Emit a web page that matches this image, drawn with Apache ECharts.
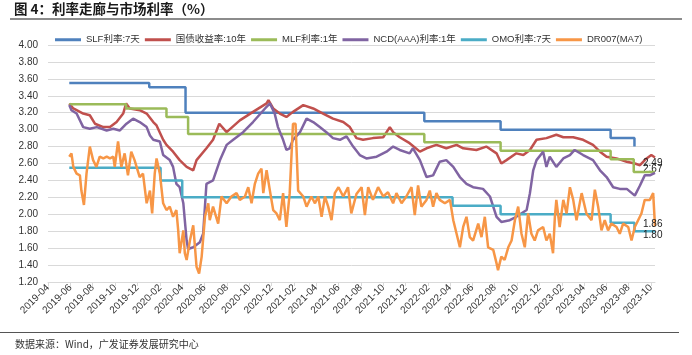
<!DOCTYPE html>
<html><head><meta charset="utf-8">
<script src="https://cdn.jsdelivr.net/npm/echarts@6/dist/echarts.min.js"></script>
<style>html,body{margin:0;padding:0;background:#fff}#c{width:692px;height:355px}</style>
</head><body><div id="c"></div>
<script>
const tickLabels = ['2019-04','2019-06','2019-08','2019-10','2019-12','2020-02','2020-04','2020-06','2020-08','2020-10','2020-12','2021-02','2021-04','2021-06','2021-08','2021-10','2021-12','2022-02','2022-04','2022-06','2022-08','2022-10','2022-12','2023-02','2023-04','2023-06','2023-08','2023-10'];
const seriesNames = ['SLF利率:7天','国债收益率:10年','MLF利率:1年','NCD(AAA)利率:1年','OMO利率:7天','DR007(MA7)'];

const slf = [['2019-05-29',3.55],['2020-01-02',3.50],['2020-04-10',3.20],['2022-01-21',3.10],['2022-08-17',3.00],['2023-06-13',2.90],['2023-08-17',2.80]];
const mlf = [['2019-05-29',3.30],['2019-10-31',3.25],['2020-02-18',3.15],['2020-04-17',2.95],['2022-01-21',2.85],['2022-08-17',2.75],['2023-06-13',2.65],['2023-08-15',2.50],['2023-10-12',2.50]];
const omo = [['2019-05-29',2.55],['2020-02-02',2.40],['2020-04-01',2.20],['2022-04-08',2.10],['2022-08-17',2.00],['2023-06-13',1.90],['2023-08-17',1.80],['2023-10-12',1.80]];

const bond10y = [['2019-05-29',3.31],['2019-06-09',3.25],['2019-07-06',3.19],['2019-07-24',3.17],['2019-08-07',3.07],['2019-08-30',3.03],['2019-09-17',3.03],['2019-10-05',3.09],['2019-10-23',3.19],['2019-10-31',3.31],['2019-11-10',3.25],['2019-12-07',3.23],['2019-12-26',3.19],['2020-01-13',3.09],['2020-01-22',3.05],['2020-02-09',2.88],['2020-02-18',2.82],['2020-03-07',2.74],['2020-03-25',2.64],['2020-04-13',2.56],['2020-04-22',2.54],['2020-05-01',2.52],['2020-05-10',2.64],['2020-06-06',2.78],['2020-06-24',2.88],['2020-07-11',3.07],['2020-07-31',2.97],['2020-09-05',3.11],['2020-10-11',3.21],['2020-11-17',3.31],['2020-11-22',3.35],['2020-12-05',3.25],['2020-12-23',3.19],['2021-01-10',3.15],['2021-01-28',3.21],['2021-02-25',3.29],['2021-03-24',3.25],['2021-04-20',3.19],['2021-05-17',3.13],['2021-06-14',3.09],['2021-07-02',3.03],['2021-07-20',2.90],['2021-08-07',2.88],['2021-09-03',2.90],['2021-10-01',2.91],['2021-10-19',3.03],['2021-10-28',2.97],['2021-11-15',2.91],['2021-12-12',2.84],['2022-01-09',2.74],['2022-01-27',2.78],['2022-02-23',2.82],['2022-03-22',2.78],['2022-04-19',2.82],['2022-05-07',2.78],['2022-06-12',2.76],['2022-07-09',2.80],['2022-08-06',2.72],['2022-08-19',2.60],['2022-09-02',2.64],['2022-09-29',2.72],['2022-10-18',2.70],['2022-11-05',2.76],['2022-11-23',2.88],['2022-12-20',2.90],['2023-01-16',2.94],['2023-02-04',2.91],['2023-03-03',2.91],['2023-03-30',2.88],['2023-04-26',2.82],['2023-05-15',2.74],['2023-06-02',2.68],['2023-06-29',2.66],['2023-07-27',2.62],['2023-08-18',2.60],['2023-09-01',2.58],['2023-09-19',2.66],['2023-10-02',2.70],['2023-10-12',2.67]];

const ncd1y = [['2019-05-29',3.29],['2019-06-04',3.23],['2019-06-18',3.19],['2019-07-06',3.03],['2019-07-24',3.01],['2019-08-12',3.03],['2019-09-08',2.99],['2019-09-26',3.01],['2019-10-14',2.99],['2019-11-01',3.07],['2019-11-19',3.13],['2019-12-07',3.09],['2019-12-26',3.03],['2020-01-04',2.93],['2020-01-13',2.88],['2020-01-31',2.86],['2020-02-09',2.70],['2020-02-27',2.64],['2020-03-07',2.56],['2020-03-16',2.36],['2020-03-25',2.32],['2020-04-04',2.13],['2020-04-08',1.93],['2020-04-13',1.69],['2020-04-17',1.59],['2020-05-01',1.61],['2020-05-19',1.67],['2020-05-28',1.77],['2020-06-06',2.36],['2020-06-24',2.40],['2020-07-13',2.64],['2020-07-31',2.82],['2020-08-18',2.88],['2020-09-14',2.97],['2020-10-11',3.09],['2020-11-17',3.27],['2020-11-26',3.31],['2020-12-09',3.19],['2020-12-18',3.03],['2021-01-01',2.88],['2021-01-10',2.76],['2021-01-19',2.78],['2021-01-28',2.88],['2021-02-16',2.97],['2021-03-06',3.13],['2021-03-24',3.09],['2021-04-11',3.03],['2021-04-29',2.97],['2021-05-17',2.90],['2021-06-05',2.88],['2021-06-23',2.92],['2021-07-11',2.80],['2021-07-29',2.70],['2021-08-16',2.66],['2021-09-13',2.68],['2021-10-10',2.74],['2021-10-28',2.80],['2021-11-15',2.76],['2021-12-12',2.72],['2021-12-21',2.78],['2022-01-09',2.64],['2022-01-27',2.44],['2022-02-14',2.46],['2022-03-04',2.62],['2022-03-22',2.64],['2022-04-10',2.56],['2022-04-28',2.44],['2022-05-16',2.36],['2022-06-03',2.32],['2022-06-30',2.30],['2022-07-19',2.21],['2022-08-06',1.97],['2022-08-19',1.91],['2022-09-11',1.93],['2022-09-29',1.97],['2022-10-27',2.05],['2022-11-05',2.25],['2022-11-14',2.52],['2022-11-23',2.64],['2022-12-11',2.74],['2022-12-20',2.56],['2022-12-29',2.68],['2023-01-16',2.56],['2023-02-04',2.66],['2023-02-22',2.70],['2023-03-07',2.76],['2023-03-30',2.70],['2023-04-26',2.64],['2023-05-15',2.52],['2023-06-02',2.44],['2023-06-20',2.32],['2023-07-08',2.30],['2023-07-27',2.30],['2023-08-18',2.22],['2023-09-01',2.34],['2023-09-14',2.46],['2023-09-28',2.46],['2023-10-12',2.49]];

const dr007 = [['2019-05-29',2.68],['2019-06-04',2.72],['2019-06-09',2.56],['2019-06-18',2.48],['2019-06-27',2.46],['2019-07-01',2.28],['2019-07-08',2.11],['2019-07-15',2.48],['2019-07-24',2.80],['2019-08-02',2.64],['2019-08-11',2.56],['2019-08-20',2.68],['2019-08-30',2.66],['2019-09-08',2.68],['2019-09-17',2.66],['2019-09-26',2.68],['2019-09-30',2.56],['2019-10-09',2.86],['2019-10-18',2.56],['2019-10-27',2.72],['2019-11-05',2.46],['2019-11-14',2.74],['2019-11-23',2.64],['2019-12-07',2.44],['2019-12-16',2.48],['2019-12-26',2.13],['2020-01-04',2.28],['2020-01-10',2.01],['2020-01-17',2.48],['2020-01-22',2.66],['2020-01-31',2.48],['2020-02-09',2.13],['2020-02-18',2.05],['2020-02-27',2.09],['2020-03-07',1.97],['2020-03-16',2.05],['2020-03-21',1.81],['2020-03-25',1.54],['2020-04-04',1.81],['2020-04-08',1.54],['2020-04-13',1.46],['2020-04-22',1.69],['2020-05-01',1.87],['2020-05-10',1.38],['2020-05-17',1.30],['2020-05-24',1.50],['2020-06-02',1.97],['2020-06-11',2.13],['2020-06-15',1.93],['2020-06-24',2.09],['2020-07-08',1.89],['2020-07-17',2.21],['2020-07-31',2.13],['2020-08-13',2.21],['2020-08-27',2.25],['2020-09-05',2.17],['2020-09-19',2.21],['2020-09-28',2.32],['2020-10-07',2.13],['2020-10-16',2.36],['2020-10-25',2.48],['2020-11-03',2.54],['2020-11-08',2.25],['2020-11-17',2.52],['2020-11-26',2.28],['2020-12-05',2.05],['2020-12-14',2.01],['2020-12-23',1.93],['2021-01-01',2.25],['2021-01-10',1.85],['2021-01-19',2.25],['2021-01-28',3.07],['2021-02-04',3.07],['2021-02-11',2.28],['2021-02-25',2.21],['2021-03-06',2.09],['2021-03-19',2.21],['2021-03-29',2.13],['2021-04-07',2.21],['2021-04-16',1.97],['2021-04-25',2.21],['2021-05-04',2.09],['2021-05-13',1.93],['2021-05-22',2.25],['2021-06-01',2.32],['2021-06-14',2.21],['2021-06-27',2.32],['2021-07-06',2.01],['2021-07-20',2.24],['2021-08-03',2.32],['2021-08-12',1.99],['2021-08-21',2.32],['2021-09-03',2.17],['2021-09-17',2.32],['2021-10-01',2.21],['2021-10-14',2.26],['2021-10-28',2.13],['2021-11-06',2.25],['2021-11-20',2.13],['2021-12-03',2.21],['2021-12-17',2.32],['2021-12-26',1.99],['2022-01-04',2.34],['2022-01-13',2.09],['2022-01-27',2.17],['2022-02-05',2.28],['2022-02-14',2.09],['2022-02-23',2.25],['2022-03-04',2.17],['2022-03-18',2.13],['2022-04-01',2.17],['2022-04-10',1.93],['2022-04-19',1.77],['2022-04-28',1.61],['2022-05-07',1.85],['2022-05-16',1.97],['2022-05-25',1.73],['2022-06-03',1.69],['2022-06-17',1.89],['2022-06-26',1.73],['2022-07-05',1.97],['2022-07-14',1.61],['2022-07-28',1.58],['2022-08-06',1.42],['2022-08-10',1.34],['2022-08-19',1.50],['2022-08-28',1.46],['2022-09-07',1.61],['2022-09-16',1.69],['2022-09-25',1.93],['2022-10-04',2.09],['2022-10-13',1.77],['2022-10-22',1.61],['2022-10-31',2.01],['2022-11-09',1.77],['2022-11-18',1.69],['2022-11-27',1.81],['2022-12-11',1.85],['2022-12-20',1.69],['2022-12-29',1.77],['2023-01-07',1.54],['2023-01-12',1.97],['2023-01-16',2.17],['2023-01-25',1.85],['2023-02-04',2.17],['2023-02-13',2.01],['2023-02-22',2.32],['2023-03-03',2.17],['2023-03-12',1.93],['2023-03-26',2.25],['2023-04-08',2.01],['2023-04-22',1.93],['2023-05-01',2.29],['2023-05-10',2.09],['2023-05-19',1.81],['2023-05-28',1.93],['2023-06-06',1.81],['2023-06-15',1.89],['2023-06-29',1.85],['2023-07-08',1.77],['2023-07-17',1.89],['2023-07-31',1.85],['2023-08-09',1.69],['2023-08-18',1.85],['2023-08-27',1.93],['2023-09-05',2.01],['2023-09-14',2.17],['2023-09-28',2.17],['2023-10-07',2.25],['2023-10-12',1.86]];

const colors = ['#4f81bd','#c0504d','#9bbb59','#8064a2','#4bacc6','#f79646'];
const FONT = "'Liberation Sans','Noto Sans CJK SC',sans-serif";
const T = s => echarts.number.parseDate(s).getTime();
const toData = pairs => pairs.map(p => [T(p[0]), p[1]]);
const fmt2 = p => p.value[1].toFixed(2);
const tickValues = tickLabels.map(s => T(s + '-01'));

function line(i, pairs, extra) {
  return Object.assign({
    name: seriesNames[i], type: 'line', data: toData(pairs),
    showSymbol: false, symbol: 'none', lineStyle: {width: 2.5, color: colors[i]},
    itemStyle: {color: colors[i]}, z: 2 + i
  }, extra || {});
}
function endLbl(dx, dy) {
  return {endLabel: {show: true, formatter: fmt2, offset: [dx, dy], color: '#222', fontSize: 10, fontFamily: FONT, distance: 0}};
}

const chart = echarts.init(document.getElementById('c'), null, {renderer: 'canvas'});
chart.setOption({
  animation: false,
  backgroundColor: '#fff',
  color: colors,
  grid: {left: 48, right: 37, top: 45, bottom: 73},
  legend: {
    left: 50, top: 30, itemWidth: 26, itemHeight: 3, itemGap: 5, icon: 'rect',
    textStyle: {fontSize: 9.5, color: '#333', fontFamily: FONT},
    data: seriesNames
  },
  xAxis: {
    type: 'value', min: T('2019-04-01'), max: T('2023-10-12'),
    axisLine: {show: true, lineStyle: {color: '#d9d9d9'}},
    axisTick: {show: true, length: 4, lineStyle: {color: '#d9d9d9'}, customValues: tickValues},
    axisLabel: {rotate: 45, margin: 4, fontSize: 10, color: '#333', fontFamily: FONT,
      interval: 0, hideOverlap: false, showMinLabel: true, showMaxLabel: true,
      customValues: tickValues,
      formatter: v => tickLabels[tickValues.indexOf(v)] || echarts.time.format(v, '{yyyy}-{MM}', false)},
    splitLine: {show: false}
  },
  yAxis: {
    type: 'value', min: 1.2, max: 4.0, interval: 0.2,
    axisLine: {show: false}, axisTick: {show: false},
    axisLabel: {formatter: v => v.toFixed(2), fontSize: 10, color: '#333', margin: 10, fontFamily: FONT},
    splitLine: {lineStyle: {color: '#d9d9d9', width: 1}}
  },
  series: [
    line(0, slf, {step: 'end'}),
    line(1, bond10y, endLbl(-12, 12)),
    line(2, mlf, {step: 'end'}),
    line(3, ncd1y, endLbl(-12, -10)),
    line(4, omo, Object.assign({step: 'end'}, endLbl(-12, 4))),
    line(5, dr007, endLbl(-12, -2))
  ],
  graphic: [
    {type: 'text', left: 14, top: 2, style: {text: '图 4：利率走廊与市场利率（%）', font: "bold 13.5px 'Noto Sans CJK SC',sans-serif", fill: '#1a1a1a'}},
    {type: 'rect', shape: {x: 10, y: 18, width: 672, height: 2}, style: {fill: '#8c8c8c'}},
    {type: 'rect', shape: {x: 0, y: 332, width: 679, height: 1}, style: {fill: '#555'}},
    {type: 'text', left: 15, top: 339, style: {text: '数据来源：Wind，广发证券发展研究中心', font: "10px 'Noto Sans CJK SC',sans-serif", fill: '#333'}}
  ]
});
</script></body></html>
